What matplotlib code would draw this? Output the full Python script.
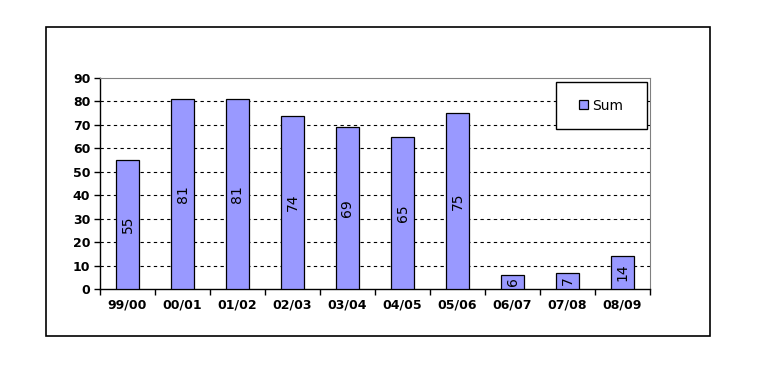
import matplotlib
matplotlib.use("Agg")
import matplotlib.pyplot as plt
from matplotlib.patches import Rectangle

categories = ["99/00", "00/01", "01/02", "02/03", "03/04", "04/05", "05/06", "06/07", "07/08", "08/09"]
values = [55, 81, 81, 74, 69, 65, 75, 6, 7, 14]
yticks = [0, 10, 20, 30, 40, 50, 60, 70, 80, 90]
series_name = "Sum"

W, H = 757, 365
fig = plt.figure(figsize=(W / 100, H / 100), dpi=100)
fig.patch.set_facecolor("white")

# outer chart frame
fig.patches.append(Rectangle((46 / W, 1 - 336 / H), (710 - 46) / W, (336 - 27) / H,
                             transform=fig.transFigure, fill=False, edgecolor="black", lw=1.2))

ax = fig.add_axes([100 / W, 1 - 289 / H, (650 - 100) / W, (289 - 78) / H])
x = list(range(len(categories)))
bars = ax.bar(x, values, width=0.42, color="#9999FF", edgecolor="black", linewidth=0.9, zorder=3)

for xi, v in zip(x, values):
    ax.text(xi, v / 2, str(v), rotation=90, ha="center", va="center",
            fontsize=10, family="DejaVu Sans", zorder=4)

ax.set_xlim(-0.5, len(categories) - 0.5)
ax.set_ylim(0, 90)
ax.set_yticks(yticks)
ax.set_yticklabels([str(t) for t in yticks], fontsize=9, fontweight="bold")
ax.set_xticks(x)
ax.set_xticklabels(categories, fontsize=9, fontweight="bold")
ax.tick_params(axis="x", length=0, pad=7)
ax.tick_params(axis="y", length=4, width=1, pad=3)
# category boundary ticks
ax.set_xticks([i - 0.5 for i in range(len(categories) + 1)], minor=True)
ax.tick_params(axis="x", which="minor", length=4, width=1, direction="out")

for t in yticks[1:-1]:
    ax.axhline(t, color="black", lw=0.8, ls=(0, (3, 3)), zorder=1)

ax.spines["left"].set_color("black")
ax.spines["bottom"].set_color("black")
ax.spines["left"].set_linewidth(1)
ax.spines["bottom"].set_linewidth(1)
ax.spines["top"].set_color("#808080")
ax.spines["right"].set_color("#808080")

# legend box
bx0, bx1 = (556 - 100) / 550, (647 - 100) / 550
by0, by1 = (289 - 129) / 211, (289 - 82) / 211
ax.add_patch(Rectangle((bx0, by0), bx1 - bx0, by1 - by0, transform=ax.transAxes,
                       facecolor="white", edgecolor="black", lw=1, zorder=6, clip_on=False))
leg = ax.legend([bars], [series_name], loc="center",
                bbox_to_anchor=((bx0 + bx1) / 2, (by0 + by1) / 2),
                frameon=False, fontsize=10,
                handlelength=0.65, handleheight=0.65, handletextpad=0.3,
                borderpad=0, borderaxespad=0)
leg.set_zorder(7)
for txt in leg.get_texts():
    txt.set_family("DejaVu Sans")

fig.savefig("out.png", dpi=100)
